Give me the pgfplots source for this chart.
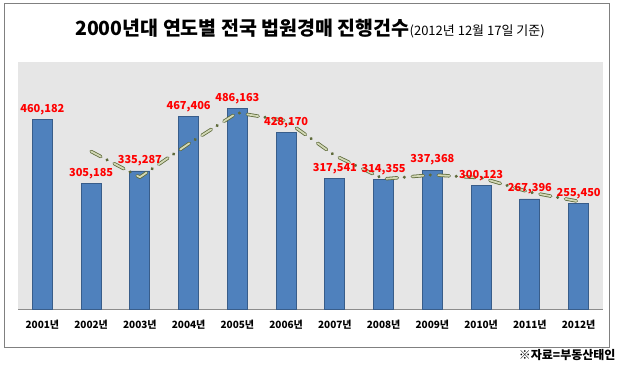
\documentclass[border=0pt]{standalone}
\usepackage{pgfplots}
\pgfplotsset{compat=1.18}
\usepackage{fontspec}
\setmainfont{Noto Sans CJK KR}
\definecolor{barfill}{HTML}{4F81BD}
\definecolor{baredge}{HTML}{385D8A}
\definecolor{plotbg}{HTML}{E6E6E6}
\definecolor{trenddark}{HTML}{5E6A3A}
\definecolor{trendlight}{HTML}{D2D8B6}
\begin{document}
\begin{tikzpicture}
\useasboundingbox (0pt,0pt) rectangle (621pt,367pt);
\draw[color=black!50, line width=1pt] (4pt,20pt) rectangle (609pt,363pt);
\node[anchor=base west, inner sep=0pt, font=\bfseries\fontsize{19.5}{22}\selectfont] at (75pt,331pt) {2000년대 연도별 전국 법원경매 진행건수{\mdseries\fontsize{13}{15}\selectfont(2012년 12월 17일 기준)}};
\node[anchor=east, font=\bfseries\fontsize{12}{14}\selectfont] at (619pt,12pt) {※자료=부동산태인};
\begin{axis}[
  at={(18pt,58pt)}, anchor=south west,
  width=585pt, height=247pt, scale only axis,
  xmin=-0.5, xmax=11.5, ymin=0, ymax=600000,
  axis background/.style={fill=plotbg},
  axis y line=none, axis x line*=bottom,
  x axis line style={draw=black!45, line width=0.8pt, -},
  xtick={0,...,11},
  xticklabels={2001년,2002년,2003년,2004년,2005년,2006년,2007년,2008년,2009년,2010년,2011년,2012년},
  xticklabel style={font=\bfseries\fontsize{10}{12}\selectfont, yshift=-8pt},
  major tick length=0pt,
  ytick=\empty,
]
\addplot[ybar, bar width=20pt, fill=barfill, draw=baredge, line width=0.8pt,
  point meta=explicit symbolic, nodes near coords,
  every node near coord/.append style={font=\bfseries\fontsize{11}{13}\selectfont, text=red, yshift=1pt}]
  coordinates {(0,460182) [{460,182}] (1,305185) [{305,185}] (2,335287) [{335,287}] (3,467406) [{467,406}] (4,486163) [{486,163}] (5,428170) [{428,170}] (6,317541) [{317,541}] (7,314355) [{314,355}] (8,337368) [{337,368}] (9,300123) [{300,123}] (10,267396) [{267,396}] (11,255450) [{255,450}]};
\addplot[sharp plot, no marks, draw=trenddark, line width=3.4pt, line cap=round,
  dash pattern=on 11pt off 7pt on 0.01pt off 8pt]
  coordinates {(1,382683.5) (2,320236) (3,401346.5) (4,476784.5) (5,457166.5) (6,372855.5) (7,315948) (8,325861.5) (9,318745.5) (10,283759.5) (11,261423)};
\addplot[sharp plot, no marks, draw=trendlight, line width=1.8pt, line cap=round,
  dash pattern=on 11pt off 15.01pt]
  coordinates {(1,382683.5) (2,320236) (3,401346.5) (4,476784.5) (5,457166.5) (6,372855.5) (7,315948) (8,325861.5) (9,318745.5) (10,283759.5) (11,261423)};
\end{axis}
\end{tikzpicture}
\end{document}
